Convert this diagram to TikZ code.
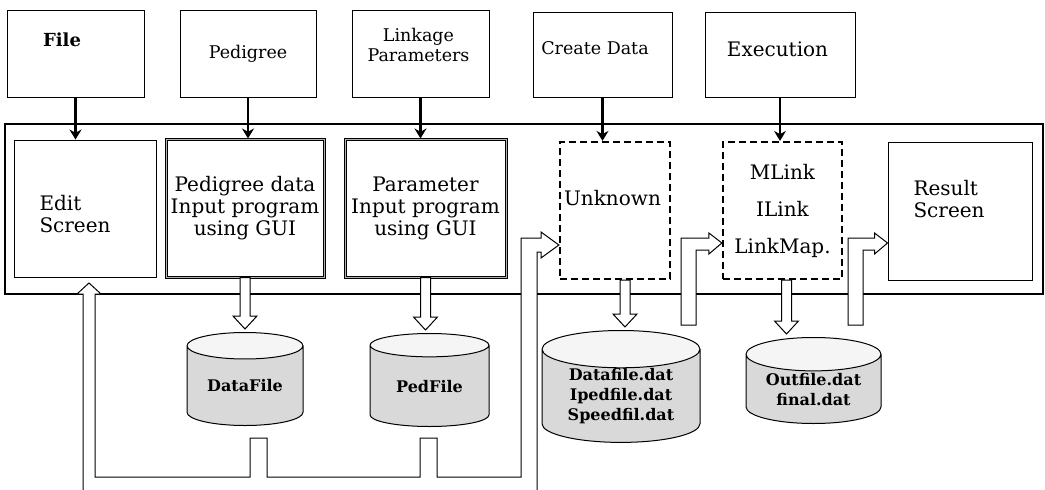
\documentclass[tikz,border=0pt]{standalone}
\usepackage{fontspec}
\setmainfont{DejaVu Serif}
\usetikzlibrary{arrows.meta,calc,shapes.geometric}

% hollow arrow straight down from a box (#1) to a drum (#2), moved sideways by #3
\newcommand{\fatdown}[3]{%
  \draw[hollow] ($(#1.south)+(#3-5,0)$) -- ($(#1.south |- #2.north)+(#3-5,-16)$)
    -- ++(-7,0) -- ++(12,13) -- ++(12,-13) -- ++(-7,0)
    -- ($(#1.south)+(#3+5,0)$) -- cycle;}
% hollow arrow coming up from below (left wall at x=#1) and bending right to tip #2
\newcommand{\bendright}[2]{%
  \draw[hollow] (#1,325) |- ($(#2)+(-13,-5)$) -- ++(0,-5) -- (#2)
    -- ++(-13,11) -- ++(0,-4) -| (#1+15,325) -- cycle;}

\begin{document}
\begin{tikzpicture}[x=1pt,y=-1pt,>={Stealth[length=10pt,width=12pt]},
                    font=\fontsize{17.5}{20}\selectfont]
  \tikzstyle{topbox}=[draw,line width=0.8pt,inner sep=0pt]
  \tikzstyle{inbox}=[draw,line width=0.9pt,inner sep=0pt,align=center,
                     font=\fontsize{20}{22}\selectfont]
  \tikzstyle{guibox}=[inbox,double=gray!60,double distance=1pt,line width=1pt]
  \tikzstyle{dashbox}=[inbox,line width=2.2pt,dash pattern=on 7pt off 4pt]
  \tikzstyle{intext}=[font=\fontsize{20}{22}\selectfont,align=left]
  \tikzstyle{drum}=[cylinder,shape border rotate=90,aspect=0.35,draw,line width=1pt,
                    anchor=north,cylinder uses custom fill,cylinder body fill=gray!30,
                    cylinder end fill=gray!8,inner sep=0pt,align=center,
                    font=\fontsize{16}{20}\selectfont\bfseries]
  \tikzstyle{hollow}=[draw,fill=white,line width=1pt,line join=miter]
  \tikzstyle{menu}=[->,line width=2.4pt]

  \useasboundingbox (0,0) rectangle (1045,490);

  % menu row
  \node[topbox,minimum width=137pt,minimum height=87pt] (file) at (75.5,53.5) {};
  \node[topbox,minimum width=136pt,minimum height=87pt] (ped)  at (248,53.5) {Pedigree};
  \node[topbox,minimum width=137pt,minimum height=87pt] (link) at (420.5,53.5) {};
  \node[topbox,minimum width=139pt,minimum height=85pt] (cre)  at (602.5,54.5) {};
  \node[topbox,minimum width=150pt,minimum height=85pt] (exe)  at (780,54.5) {};
  \node[font=\fontsize{18}{20}\selectfont\bfseries] (tfile) at ([shift={(-13.5,-13.5)}]file.center) {File};
  \node[align=center] (tlink) at ([shift={(-2,-9)}]link.center) {Linkage\\Parameters};
  \node (tcre) at ([shift={(-7.5,-6)}]cre.center) {Create Data};
  \node[font=\fontsize{20}{22}\selectfont] (texe) at ([shift={(-2.5,-5)}]exe.center) {Execution};

  % program frame
  \node[draw,line width=2.4pt,minimum width=1038pt,minimum height=170pt] (frame) at (524,209) {};

  \node[inbox,minimum width=142pt,minimum height=137pt] (edit) at (85,208.5) {};
  \node[guibox,minimum width=158pt,minimum height=138pt] (pgd) at (245,208)
       {Pedigree data\\Input program\\using GUI};
  \node[guibox,minimum width=161pt,minimum height=138pt] (par) at (425.5,208)
       {Parameter\\Input program\\using GUI};
  \node[dashbox,minimum width=110pt,minimum height=137pt] (unk) at (615,210.5) {};
  \node[dashbox,minimum width=119pt,minimum height=137pt] (mlk) at (782.5,210.5)
       {MLink\\[15pt]ILink\\[15pt]LinkMap.};
  \node[inbox,minimum width=144pt,minimum height=138pt] (res) at (960,211) {};
  \node[intext,anchor=west] (tedit) at ([shift={(-49,5.5)}]edit.center) {Edit\\Screen};
  \node[intext] (tunk) at ([shift={(-2.5,-12.5)}]unk.center) {Unknown};
  \node[intext,anchor=west] (tres) at ([shift={(-50,-12)}]res.center) {Result\\Screen};

  % data files
  \node[drum,minimum width=116pt,minimum height=93pt] (df)  at (245,332) {DataFile};
  \node[drum,minimum width=119pt,minimum height=93pt] (pf)  at (429.5,333) {PedFile};
  \node[drum,minimum width=158pt,minimum height=90pt] (dat) at (621,330)
       {Datafile.dat\\Ipedfile.dat\\Speedfil.dat};
  \node[drum,minimum width=135pt,minimum height=86pt] (out) at (813.5,337)
       {Outfile.dat\\final.dat};

  % menu arrows
  \path (file) edge[menu] (file.south |- edit.north)
        (ped)  edge[menu] (ped.south |- pgd.north)
        (link) edge[menu] (link.south |- par.north)
        (cre)  edge[menu] (cre.south |- unk.north)
        (exe)  edge[menu] (exe.south |- mlk.north);

  % output arrows
  \fatdown{pgd}{df}{0}
  \fatdown{par}{pf}{0}
  \fatdown{unk}{dat}{10}
  \fatdown{mlk}{out}{4}

  \coordinate (tipu) at (unk.west |- 0,245);
  \coordinate (tipm) at (mlk.west |- 0,243);
  \coordinate (tipr) at (res.west |- 0,243);

  % feedback pipe under the files
  \draw[hollow] (83,490) -- (83,294) -- (77,294) -- (89,283) -- (101,294) -- (95,294)
    -- (95,477) -- (250,477) -- (250,438) -- (267,438) -- (267,477)
    -- (420,477) -- (420,438) -- (437,438) -- (437,477)
    -- (521,477) |- (541,238) -- (541,232) -- (tipu) -- (541,258) -- (541,252)
    -- (537,252) -- (537,490);

  \bendright{681}{tipm}
  \bendright{848}{tipr}
\end{tikzpicture}
\end{document}
